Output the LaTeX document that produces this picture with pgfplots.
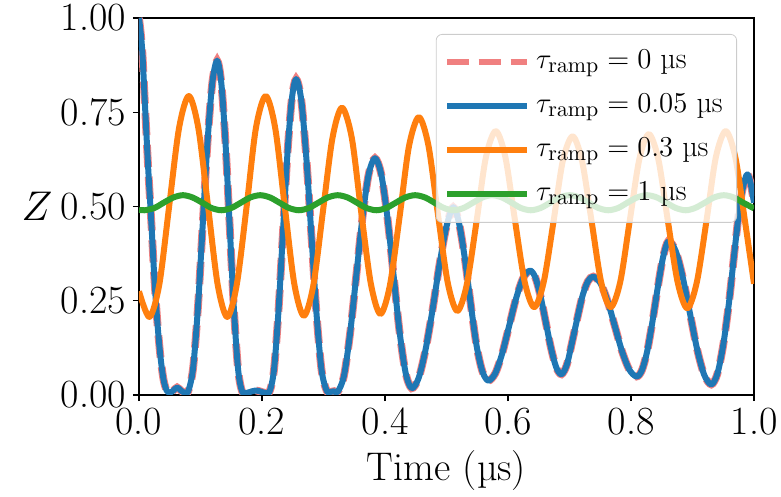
\documentclass[border=0pt]{standalone}
\usepackage{pgfplots}
\usepackage{pgfplotstable}
\pgfplotsset{compat=1.18}
\definecolor{mplblue}{HTML}{1F77B4}
\definecolor{mplorange}{HTML}{FF7F0E}
\definecolor{mplgreen}{HTML}{2CA02C}
\definecolor{lcoral}{HTML}{F08080}

\pgfplotstableread{
x y
0.000 1.000
0.005 0.920
0.010 0.760
0.015 0.600
0.020 0.460
0.025 0.310
0.030 0.190
0.035 0.100
0.040 0.040
0.045 0.012
0.050 0.006
0.056 0.012
0.062 0.020
0.068 0.012
0.074 0.006
0.080 0.010
0.0878 0.069
0.0957 0.229
0.1035 0.4485
0.1113 0.668
0.1192 0.828
0.127 0.887
0.1338 0.828
0.1407 0.667
0.1475 0.4475
0.1543 0.228
0.1612 0.067
0.168 0.008
0.176 0.006
0.184 0.010
0.190 0.012
0.196 0.010
0.204 0.006
0.212 0.008
0.2193 0.064
0.2265 0.2155
0.2338 0.423
0.241 0.6305
0.2483 0.782
0.2555 0.838
0.2638 0.783
0.272 0.631
0.2803 0.425
0.2885 0.2185
0.2968 0.067
0.305 0.012
0.311 0.008
0.317 0.010
0.323 0.008
0.3331 0.0495
0.3432 0.163
0.3534 0.318
0.3635 0.473
0.3736 0.5865
0.3837 0.628
0.3937 0.587
0.4036 0.4755
0.4136 0.323
0.4235 0.1705
0.4335 0.059
0.4434 0.018
0.4547 0.045
0.4659 0.120
0.4772 0.225
0.4885 0.345
0.4997 0.445
0.511 0.498
0.5205 0.455
0.530 0.360
0.5395 0.240
0.549 0.130
0.5585 0.062
0.568 0.038
0.5793 0.0575
0.5907 0.111
0.602 0.184
0.6133 0.257
0.6247 0.3105
0.636 0.330
0.6445 0.3115
0.653 0.261
0.6615 0.1925
0.670 0.124
0.6785 0.073
0.687 0.055
0.6956 0.080
0.7042 0.140
0.7129 0.205
0.7215 0.265
0.7301 0.302
0.7387 0.314
0.7504 0.296
0.7621 0.248
0.7739 0.1815
0.7856 0.115
0.7973 0.067
0.809 0.049
0.8176 0.065
0.8262 0.115
0.8349 0.195
0.8435 0.285
0.8521 0.365
0.8607 0.408
0.8724 0.383
0.884 0.313
0.8957 0.218
0.9073 0.123
0.919 0.0535
0.9306 0.028
0.9402 0.055
0.9497 0.130
0.9593 0.245
0.9689 0.390
0.9784 0.520
0.988 0.584
0.994 0.565
1.000 0.510
}\blueTable

\pgfplotstableread{
x y
0.000 0.275
0.017 0.207
0.033 0.293
0.049 0.500
0.065 0.707
0.081 0.793
0.0966 0.707
0.1123 0.500
0.1279 0.293
0.1435 0.207
0.159 0.293
0.175 0.500
0.190 0.707
0.206 0.793
0.2215 0.708
0.237 0.500
0.2525 0.295
0.268 0.210
0.2835 0.291
0.299 0.486
0.3145 0.681
0.330 0.762
0.346 0.682
0.361 0.489
0.377 0.295
0.3925 0.215
0.408 0.291
0.424 0.476
0.439 0.660
0.455 0.737
0.4706 0.662
0.486 0.480
0.502 0.298
0.5175 0.223
0.533 0.293
0.549 0.462
0.564 0.630
0.580 0.700
0.5956 0.632
0.611 0.467
0.627 0.301
0.6425 0.233
0.658 0.299
0.674 0.460
0.689 0.620
0.705 0.686
0.7205 0.620
0.736 0.460
0.7515 0.299
0.767 0.233
0.7825 0.300
0.798 0.4625
0.8135 0.625
0.829 0.692
0.8446 0.624
0.860 0.461
0.876 0.298
0.8915 0.230
0.907 0.299
0.923 0.465
0.938 0.631
0.954 0.700
0.9696 0.631
0.985 0.465
1.000 0.295
}\orangeTable

\pgfplotstableread{
x y
0.000 0.491
0.009 0.490
0.025 0.496
0.040 0.510
0.056 0.524
0.0715 0.530
0.087 0.524
0.103 0.510
0.118 0.496
0.134 0.490
0.150 0.496
0.1655 0.510
0.181 0.524
0.197 0.530
0.213 0.524
0.2285 0.510
0.244 0.496
0.260 0.490
0.276 0.496
0.2915 0.510
0.307 0.524
0.323 0.530
0.339 0.524
0.3545 0.510
0.370 0.496
0.386 0.490
0.402 0.496
0.4175 0.510
0.433 0.524
0.449 0.530
0.465 0.524
0.4805 0.510
0.496 0.496
0.512 0.490
0.5275 0.496
0.543 0.510
0.5585 0.524
0.574 0.530
0.590 0.524
0.606 0.510
0.621 0.496
0.637 0.490
0.653 0.496
0.6685 0.510
0.684 0.524
0.700 0.530
0.716 0.524
0.7315 0.510
0.747 0.496
0.763 0.490
0.779 0.496
0.794 0.510
0.810 0.524
0.826 0.530
0.842 0.524
0.8575 0.510
0.873 0.496
0.889 0.490
0.904 0.496
0.920 0.510
0.935 0.524
0.951 0.530
0.967 0.524
0.9825 0.510
1.000 0.495
}\greenTable

\pgfplotsset{
  mylegimg/.style={legend image code/.code={\path (0pt,0pt) -- (40pt,0pt);\draw[##1] (0pt,0pt) -- (33.5pt,0pt);}},
}

\begin{document}
\begin{tikzpicture}
\begin{axis}[
  name=ax,
  scale only axis,
  width=307.5pt, height=188.5pt,
  xmin=0, xmax=1, ymin=0, ymax=1,
  xtick={0,0.2,0.4,0.6,0.8,1},
  xticklabels={0.0,0.2,0.4,0.6,0.8,1.0},
  ytick={0,0.25,0.5,0.75,1},
  yticklabels={0.00,0.25,0.50,0.75,1.00},
  xtick pos=bottom, ytick pos=left,
  tick align=outside,
  major tick length=3pt,
  axis line style={line width=0.7pt},
  every tick/.style={line width=0.7pt, black},
  ticklabel style={font=\fontsize{20}{24}\selectfont},
  xlabel={Time (µs)},
  ylabel={$Z$},
  every axis x label/.style={at={(rel axis cs:0.5,0)}, anchor=center, yshift=-38pt, font=\fontsize{20}{24}\selectfont},
  every axis y label/.style={at={(rel axis cs:0,0.5)}, anchor=center, xshift=-51pt, font=\fontsize{21}{25}\selectfont},
  legend cell align=left,
  mylegimg,
  legend style={at={(rel axis cs:1,1)}, anchor=north east, xshift=-8.5pt, yshift=-8pt,
    draw=black!20, fill=white, fill opacity=0.8, text opacity=1, draw opacity=1,
    rounded corners=3pt, font=\fontsize{15}{18}\selectfont,
    nodes={text height=11pt, text depth=5pt, inner sep=3pt},
    inner xsep=4pt, inner ysep=3pt},
]
\addplot[lcoral, line width=3.9pt, smooth, tension=0.5, dash pattern=on 11.1pt off 4.8pt, forget plot] table[x=x,y=y] {\blueTable};
\addplot[mplblue, line width=3pt, smooth, tension=0.5, line join=round, forget plot] table[x=x,y=y] {\blueTable};
\addplot[mplorange, line width=3pt, smooth, line join=round, forget plot] table[x=x,y=y] {\orangeTable};
\addplot[mplgreen, line width=3pt, smooth, line join=round, forget plot] table[x=x,y=y] {\greenTable};
\addlegendimage{lcoral, line width=3pt, dash pattern=on 11.1pt off 4.8pt}
\addlegendentry{$\tau_{\mathrm{ramp}}=0$ µs}
\addlegendimage{mplblue, line width=3pt}
\addlegendentry{$\tau_{\mathrm{ramp}}=0.05$ µs}
\addlegendimage{mplorange, line width=3pt}
\addlegendentry{$\tau_{\mathrm{ramp}}=0.3$ µs}
\addlegendimage{mplgreen, line width=3pt}
\addlegendentry{$\tau_{\mathrm{ramp}}=1$ µs}
\end{axis}
\pgfresetboundingbox
\path[use as bounding box] ([xshift=-69.5pt,yshift=-51pt]ax.south west) rectangle ([xshift=13.5pt,yshift=9pt]ax.north east);
\end{tikzpicture}
\end{document}
